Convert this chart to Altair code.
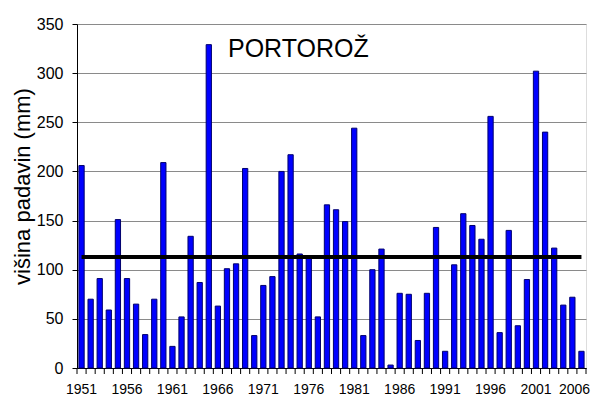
import altair as alt
import pandas as pd

years = list(range(1951, 2007))
precip = [206, 70, 91, 59, 151, 91, 65, 34, 70, 209,
          22, 52, 134, 87, 329, 63, 101, 106, 203, 33,
          84, 93, 200, 217, 116, 112, 52, 166, 161, 149,
          244, 33, 100, 121, 3, 76, 75, 28, 76, 143,
          17, 105, 157, 145, 131, 256, 36, 140, 43, 90,
          302, 240, 122, 64, 72, 17]
mean_precip = 113
y_ticks = [0, 50, 100, 150, 200, 250, 300, 350]
label_years = [1951, 1956, 1961, 1966, 1971, 1976, 1981, 1986, 1991, 1996, 2001, 2006]
title_text = "PORTOROŽ"
y_title = "višina padavin (mm)"

df = pd.DataFrame({"year": years, "precip": precip})
mean_df = pd.DataFrame({"start": [years[0]], "end": [years[-1]], "mean": [mean_precip]})
last_df = pd.DataFrame({"year": [years[-1]]})
title_df = pd.DataFrame({"t": [title_text]})

font = "Liberation Sans, Arial"
label_expr = "indexof([" + ",".join(str(y) for y in label_years) + "], datum.value) >= 0 ? datum.value : ''"

xscale = alt.Scale(paddingInner=0, paddingOuter=0)

x_enc = alt.X("year:O", scale=xscale, title=None,
              axis=alt.Axis(labelExpr=label_expr, labelAngle=0, ticks=False,
                            labelFont=font, labelFontSize=14, labelColor="black",
                            labelPadding=14, labelOverlap=False,
                            labelOffset={"condition": {"test": f"datum.value == {years[-1]}", "value": -7}, "value": 0},
                            domainColor="black", domainWidth=1, grid=False))
y_enc = alt.Y("precip:Q", scale=alt.Scale(domain=[0, 350], nice=False),
              axis=alt.Axis(values=y_ticks, title=y_title, titleFont=font,
                            titleFontSize=22, titleFontWeight="normal", titleColor="black",
                            titleX=-55, titleY=162, titleAngle=-90, titleAlign="center",
                            titleBaseline="middle",
                            labelFont=font, labelFontSize=16, labelColor="black",
                            labelPadding=9, tickColor="black", tickSize=5,
                            domainColor="black", gridColor="#8a8a8a", gridWidth=1))

bars = alt.Chart(df).mark_bar(width=alt.RelativeBandSize(0.58), color="#0000FF",
                              stroke="#00006e", strokeWidth=1).encode(x=x_enc, y=y_enc)

ticks_left = alt.Chart(df).mark_rule(color="black", strokeWidth=1).encode(
    x=alt.X("year:O", bandPosition=0), y=alt.value(344), y2=alt.value(350))
ticks_right = alt.Chart(last_df).mark_rule(color="black", strokeWidth=1).encode(
    x=alt.X("year:O", bandPosition=1), y=alt.value(344), y2=alt.value(350))

mean_line = alt.Chart(mean_df).mark_rule(color="black", strokeWidth=4).encode(
    x=alt.X("start:O"), x2="end:O", y=alt.Y("mean:Q"))

title = alt.Chart(title_df).mark_text(font=font, fontSize=25, color="black",
                                      align="left", baseline="alphabetic").encode(
    text="t:N", x=alt.value(151), y=alt.value(33))

chart = alt.layer(bars, ticks_left, ticks_right, mean_line, title).properties(
    width=509, height=344,
    autosize=alt.AutoSizeParams(type="none"),
    padding={"left": 69, "top": 16, "right": 7, "bottom": 27},
).configure_view(stroke="#8a8a8a", strokeWidth=1).configure(background="white")

chart.save("out.html", embed_options={"renderer": "svg", "actions": False})
